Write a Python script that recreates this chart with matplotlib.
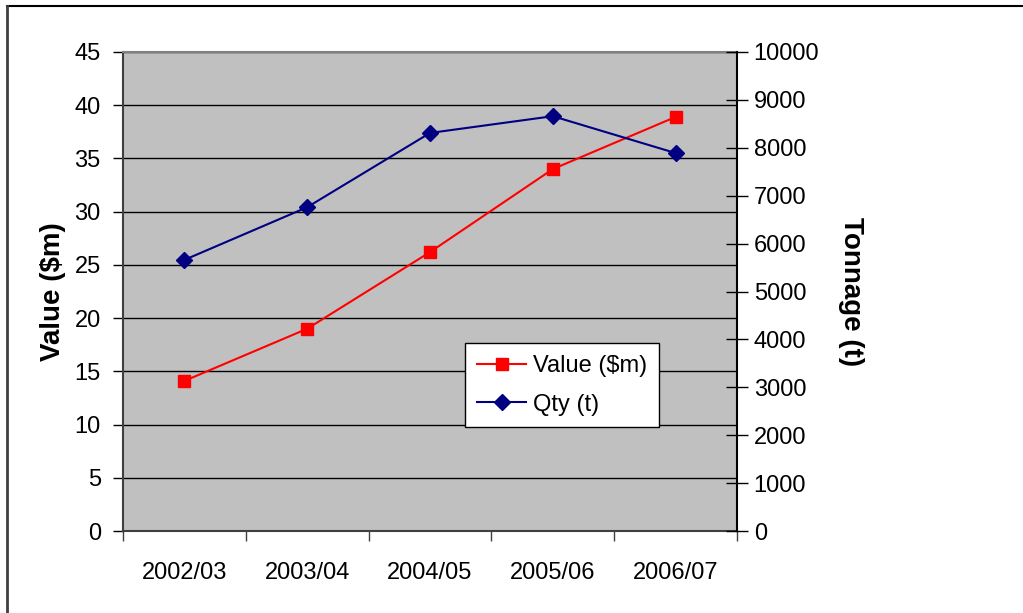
import matplotlib.pyplot as plt
from matplotlib.lines import Line2D

plt.rcParams["font.family"] = ["Liberation Sans", "DejaVu Sans"]

years = ["2002/03", "2003/04", "2004/05", "2005/06", "2006/07"]
value_m = [14.1, 19.0, 26.2, 34.0, 38.9]
qty_t = [5660, 6760, 8310, 8660, 7890]

fig = plt.figure(figsize=(10.23, 6.13), dpi=100)
ax1 = fig.add_axes([123 / 1023, 1 - 531 / 613, 614 / 1023, 479 / 613])
ax2 = ax1.twinx()

x = list(range(len(years)))

ax1.set_facecolor("#C0C0C0")
ax1.set_xlim(-0.5, len(years) - 0.5)
ax1.set_ylim(0, 45)
ax1.set_yticks(range(0, 46, 5))
ax1.set_xticks([i - 0.5 for i in range(len(years) + 1)])
ax1.set_xticklabels([])
ax1.set_xticks(x, minor=True)
ax1.set_xticklabels(years, minor=True)
ax1.tick_params(axis="x", which="major", direction="out", length=7, width=1, color="#404040")
ax1.tick_params(axis="x", which="minor", length=0, pad=22, labelsize=17)
ax1.tick_params(axis="y", direction="out", length=7, width=1, pad=9, labelsize=17)
ax1.yaxis.grid(True, color="black", linewidth=1)
ax1.set_axisbelow(True)
for side in ("left", "bottom"):
    ax1.spines[side].set_color("#404040")
    ax1.spines[side].set_linewidth(1.5)
ax1.spines["top"].set_color("#808080")
ax1.spines["top"].set_linewidth(1.5)
ax1.spines["right"].set_visible(False)
ax1.set_ylabel("Value ($m)", fontsize=20, fontweight="bold", labelpad=6)

ax2.set_ylim(0, 10000)
ax2.set_yticks(range(0, 10001, 1000))
ax2.tick_params(axis="y", direction="inout", length=16, width=1, pad=4, labelsize=17)
ax2.spines["right"].set_color("black")
ax2.spines["right"].set_linewidth(1.5)
for side in ("left", "top", "bottom"):
    ax2.spines[side].set_visible(False)
ax2.set_ylabel("Tonnage (t)", fontsize=20, fontweight="bold", rotation=-90, labelpad=32)

l1, = ax1.plot(x, value_m, color="#FF0000", linewidth=1.5, marker="s",
               markersize=9, label="Value ($m)")
l2, = ax2.plot(x, qty_t, color="#000080", linewidth=1.5, marker="D",
               markersize=8, label="Qty (t)")

leg = ax2.legend(handles=[l1, l2], loc="upper left",
                 bbox_to_anchor=(0.557, 0.392), borderaxespad=0,
                 fancybox=False, edgecolor="black", framealpha=1,
                 fontsize=17, handlelength=2.1, handletextpad=0.3,
                 labelspacing=0.7, borderpad=0.5)
leg.get_frame().set_linewidth(1)

# outer chart frame
fig.add_artist(Line2D([7 / 1023, 1], [1 - 6 / 613, 1 - 6 / 613], color="black", linewidth=1.5))
fig.add_artist(Line2D([7 / 1023, 7 / 1023], [0, 1 - 6 / 613], color="#404040", linewidth=2))

fig.savefig("out.png", dpi=100)
